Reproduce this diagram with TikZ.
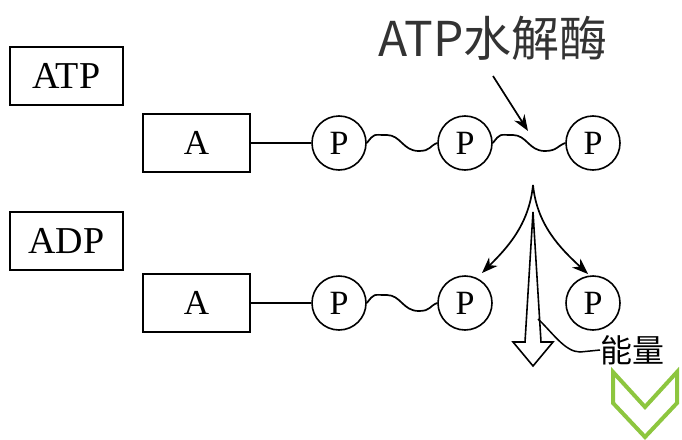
\documentclass[tikz,border=0pt]{standalone}
\usepackage{fontspec}
\setmainfont{Liberation Serif}
\newfontfamily\cjk{Noto Sans CJK SC}
\usetikzlibrary{arrows.meta,calc}
\begin{document}
\begin{tikzpicture}[x=1pt,y=-1pt,
  lbl/.style={draw, line width=1.8pt, minimum width=113pt, minimum height=58pt, inner sep=0pt, font=\fontsize{38}{38}\selectfont},
  abox/.style={draw, line width=1.8pt, minimum width=107pt, minimum height=58pt, inner sep=0pt, font=\fontsize{35}{35}\selectfont},
  pc/.style={draw, circle, line width=1.6pt, minimum size=54pt, inner sep=0pt, font=\fontsize{34}{34}\selectfont},
  bond/.style={line width=1.7pt},
  arr/.style={line width=1.7pt, -{Stealth[length=16pt,width=12pt,inset=5pt]}}]
\useasboundingbox (0,0) rectangle (682,439);
% top row
\node[lbl] (atp) at (66.5,76) {ATP};
\node[abox] (a1) at (196.5,143) {A};
\node[pc] (p11) at (339,143) {P};
\node[pc] (p12) at (465,143) {P};
\node[pc] (p13) at (593,143) {P};
\draw[bond] (a1.east) -- (p11.west);
\draw[bond] (p11.east) .. controls +(8,-10) and +(-14,0) .. ++(20,-8)
  .. controls +(14,0) and +(-16,0) .. ++(32,16)
  .. controls +(12,0) and +(-8,3) .. (p12.west);
\draw[bond] (p12.east) .. controls +(8,-10) and +(-14,0) .. ++(20,-8)
  .. controls +(14,0) and +(-16,0) .. ++(32,16)
  .. controls +(12,0) and +(-8,3) .. (p13.west);
\node[font=\cjk\fontsize{48}{48}\selectfont, text=black!80, inner sep=0pt] (enz) at (493,38) {ATP水解酶};
\coordinate (enzs) at (493,76);
\coordinate (enzt) at (528,131);
\draw[arr] (enzs) -- (enzt);
% bottom row
\node[lbl] (adp) at (66.5,241) {ADP};
\node[abox] (a2) at (196.5,303) {A};
\node[pc] (p21) at (339,303) {P};
\node[pc] (p22) at (465,303) {P};
\node[pc] (p23) at (593,303) {P};
\draw[bond] (a2.east) -- (p21.west);
\draw[bond] (p21.east) .. controls +(8,-10) and +(-14,0) .. ++(20,-8)
  .. controls +(14,0) and +(-16,0) .. ++(32,16)
  .. controls +(12,0) and +(-8,3) .. (p22.west);
% release arrows
\coordinate (apex) at (533,185);
\coordinate (lt) at (482,273);
\coordinate (rt) at (588,274);
\draw[arr] (apex) .. controls (529,225) and (507,248) .. (lt);
\draw[arr] (apex) .. controls (537,225) and (560,248) .. (rt);
% hollow energy arrow
\coordinate (etop) at (533,212);
\draw[line width=1.6pt, line join=miter, fill=white] (etop) -- (525,342) -- (513,342) -- (533,366) -- (553,342) -- (541,342) -- cycle;
\node[font=\cjk\fontsize{32}{32}\selectfont, inner sep=0pt, anchor=west] (en) at (600,350) {能量};
\coordinate (es) at (538,319);
\draw[line width=1.5pt] (es) .. controls (552,332) and (565,352) .. (580,352) -- (en.west);
% green chevron
\definecolor{chev}{RGB}{141,198,63}
\draw[chev, line width=4pt, line join=miter] (613,372) -- (613,403) -- (645,437) -- (677,403) -- (677,372) -- (645,407) -- cycle;
\end{tikzpicture}
\end{document}
